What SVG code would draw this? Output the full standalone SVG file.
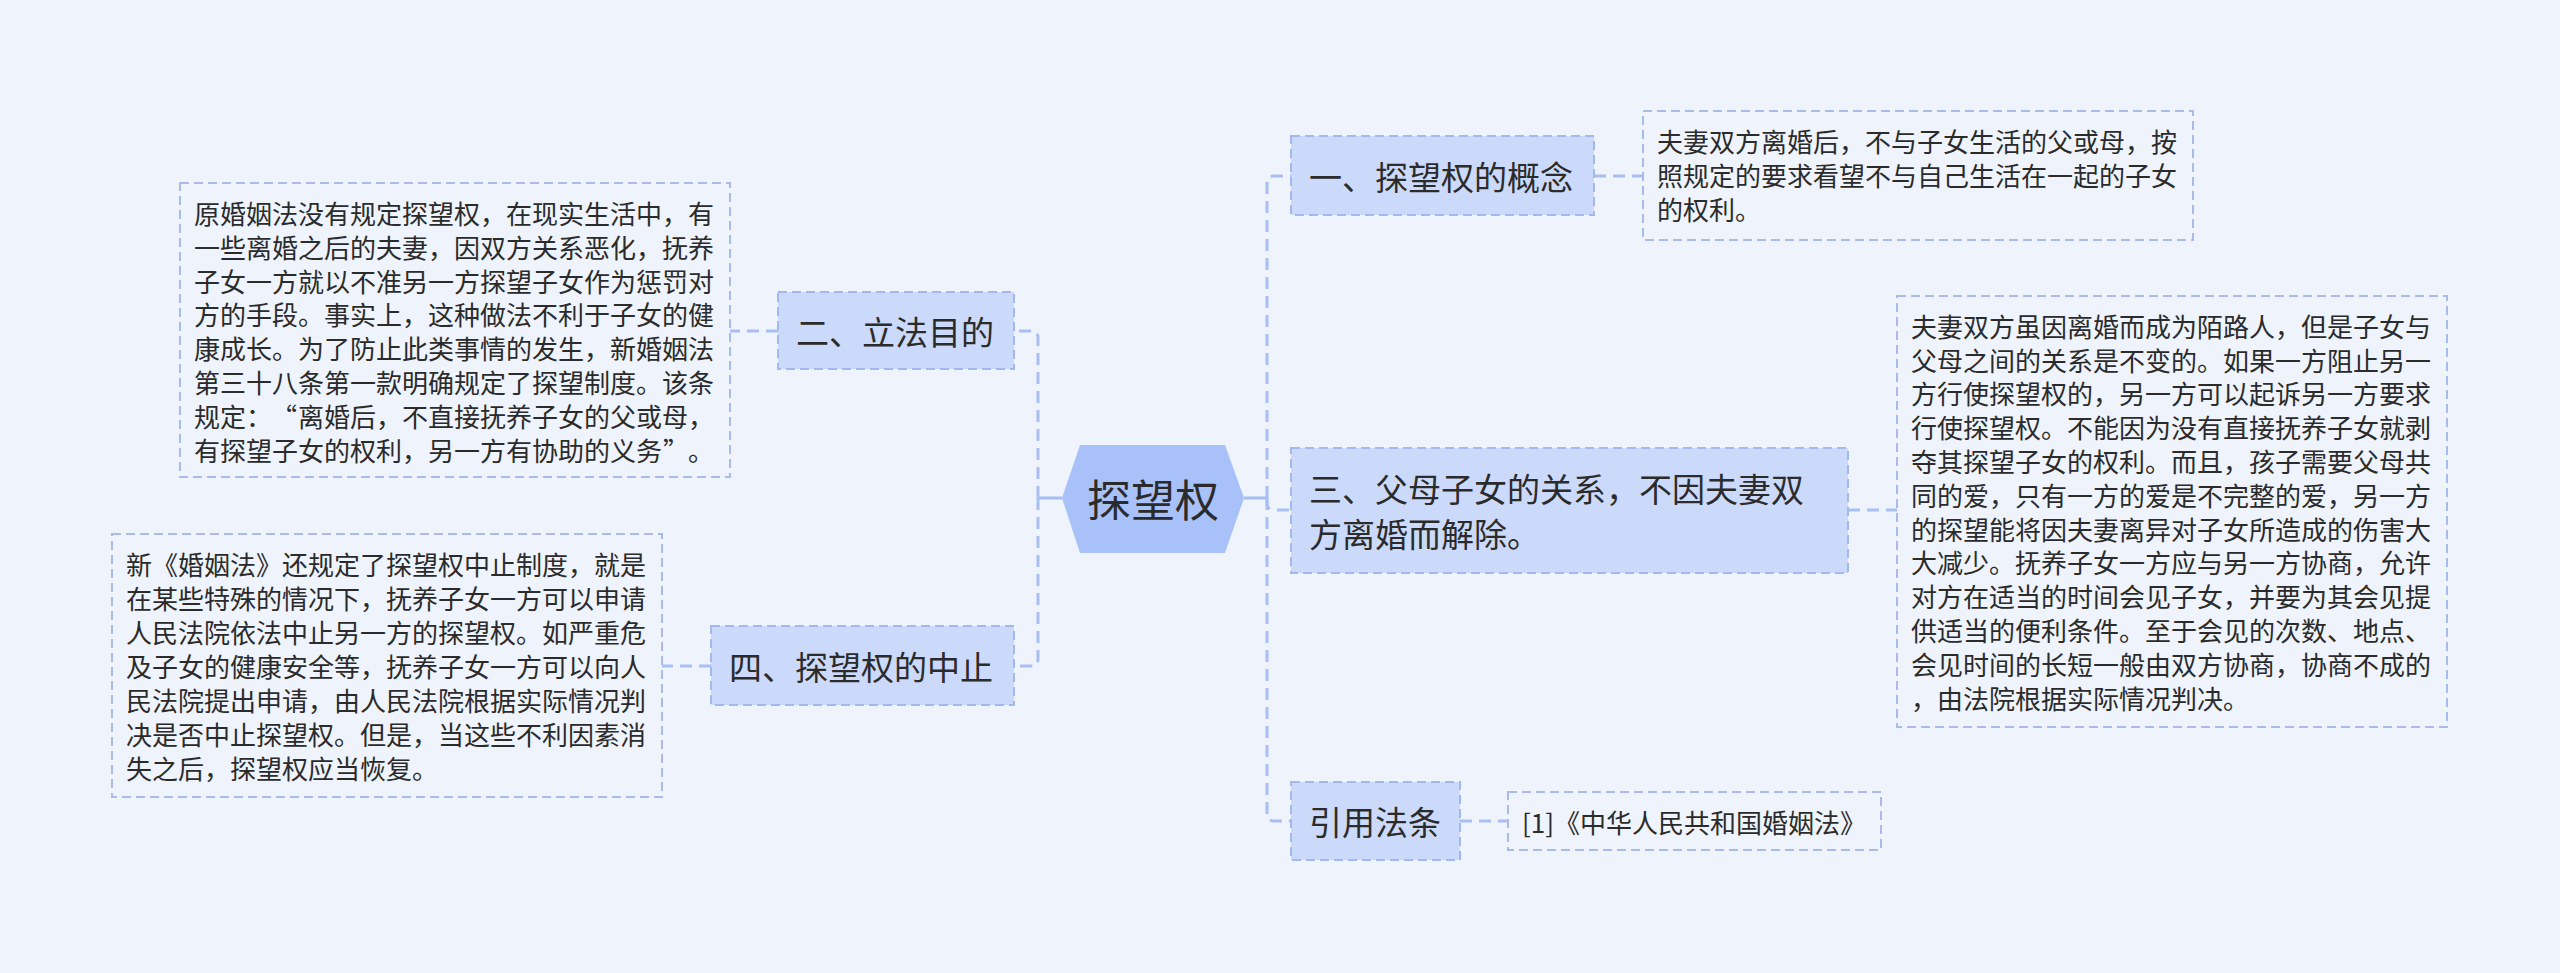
<svg xmlns="http://www.w3.org/2000/svg" width="2560" height="973" viewBox="0 0 2560 973">
<style>
.bg{fill:#eef3fc}
.conn{fill:none;stroke:#a9bff4;stroke-width:3;stroke-dasharray:12 7}
.stub{fill:none;stroke:#a9bff4;stroke-width:3}
.main rect{fill:#cbdafb;stroke:#a3b9ee;stroke-width:2;stroke-dasharray:9 5}
.leaf rect{fill:none;stroke:#a9bbe9;stroke-width:2;stroke-dasharray:9 5}
.mt{font-family:"Noto Sans CJK SC","Noto Sans",sans-serif;font-size:33px;fill:#2b2b2b;dominant-baseline:central}
.lt{font-family:"Noto Sans CJK SC","Noto Sans",sans-serif;font-size:26px;fill:#2b2b2b;dominant-baseline:central}
.ct{font-family:"Noto Sans CJK SC","Noto Sans",sans-serif;font-size:44px;fill:#2b2b2b;dominant-baseline:central;text-anchor:middle}
</style>
<rect class="bg" x="0" y="0" width="2560" height="973"/>

<g id="connectors">
  <path class="stub" d="M1244 498 H1267"/>
  <path class="stub" d="M1062 498 H1038"/>
  <path class="conn" d="M1267 498 V183 Q1267 176 1274 176 H1291"/>
  <path class="conn" d="M1267 498 V503 Q1267 510 1274 510 H1291"/>
  <path class="conn" d="M1267 498 V814 Q1267 821 1274 821 H1291"/>
  <path class="conn" d="M1038 498 V338 Q1038 331 1031 331 H1014"/>
  <path class="conn" d="M1038 498 V659 Q1038 666 1031 666 H1014"/>
  <path class="conn" d="M1594 176 H1643"/>
  <path class="conn" d="M1848 510 H1897"/>
  <path class="conn" d="M1460 821 H1508"/>
  <path class="conn" d="M778 331 H730"/>
  <path class="conn" d="M711 666 H662"/>
</g>

<g id="root">
  <polygon points="1062,498 1080,445 1225,445 1244,498 1225,553 1080,553" fill="#a8c1f9"/>
  <text class="ct" x="1153" y="498">探望权</text>
</g>

<g id="n1" class="main">
  <rect x="1291" y="136" width="303" height="79"/>
  <text class="mt" x="1309" y="176">一、探望权的概念</text>
</g>
<g id="n1leaf" class="leaf">
  <rect x="1643" y="111" width="550" height="129"/>
  <text class="lt">
    <tspan x="1657" y="140">夫妻双方离婚后，不与子女生活的父或母，按</tspan>
    <tspan x="1657" y="174">照规定的要求看望不与自己生活在一起的子女</tspan>
    <tspan x="1657" y="208">的权利。</tspan>
  </text>
</g>

<g id="n2" class="main">
  <rect x="778" y="292" width="236" height="77"/>
  <text class="mt" x="796" y="331">二、立法目的</text>
</g>
<g id="n2leaf" class="leaf">
  <rect x="180" y="183" width="550" height="294"/>
  <text class="lt">
    <tspan x="194" y="212">原婚姻法没有规定探望权，在现实生活中，有</tspan>
    <tspan x="194" y="246">一些离婚之后的夫妻，因双方关系恶化，抚养</tspan>
    <tspan x="194" y="280">子女一方就以不准另一方探望子女作为惩罚对</tspan>
    <tspan x="194" y="313">方的手段。事实上，这种做法不利于子女的健</tspan>
    <tspan x="194" y="347">康成长。为了防止此类事情的发生，新婚姻法</tspan>
    <tspan x="194" y="381">第三十八条第一款明确规定了探望制度。该条</tspan>
    <tspan x="194" y="415">规定：</tspan><tspan x="297" y="415" text-anchor="end">“</tspan><tspan x="298" y="415">离婚后，不直接抚养子女的父或母，</tspan>
    <tspan x="194" y="449">有探望子女的权利，另一方有协助的义务</tspan><tspan x="663" y="449">”</tspan><tspan x="688" y="449">。</tspan>
  </text>
</g>

<g id="n3" class="main">
  <rect x="1291" y="448" width="557" height="125"/>
  <text class="mt">
    <tspan x="1309" y="488">三、父母子女的关系，不因夫妻双</tspan>
    <tspan x="1309" y="533">方离婚而解除。</tspan>
  </text>
</g>
<g id="n3leaf" class="leaf">
  <rect x="1897" y="296" width="550" height="431"/>
  <text class="lt">
    <tspan x="1911" y="325">夫妻双方虽因离婚而成为陌路人，但是子女与</tspan>
    <tspan x="1911" y="359">父母之间的关系是不变的。如果一方阻止另一</tspan>
    <tspan x="1911" y="392">方行使探望权的，另一方可以起诉另一方要求</tspan>
    <tspan x="1911" y="426">行使探望权。不能因为没有直接抚养子女就剥</tspan>
    <tspan x="1911" y="460">夺其探望子女的权利。而且，孩子需要父母共</tspan>
    <tspan x="1911" y="494">同的爱，只有一方的爱是不完整的爱，另一方</tspan>
    <tspan x="1911" y="528">的探望能将因夫妻离异对子女所造成的伤害大</tspan>
    <tspan x="1911" y="561">大减少。抚养子女一方应与另一方协商，允许</tspan>
    <tspan x="1911" y="595">对方在适当的时间会见子女，并要为其会见提</tspan>
    <tspan x="1911" y="629">供适当的便利条件。至于会见的次数、地点、</tspan>
    <tspan x="1911" y="663">会见时间的长短一般由双方协商，协商不成的</tspan>
    <tspan x="1911" y="697">，由法院根据实际情况判决。</tspan>
  </text>
</g>

<g id="n4" class="main">
  <rect x="711" y="626" width="303" height="79"/>
  <text class="mt" x="729" y="666">四、探望权的中止</text>
</g>
<g id="n4leaf" class="leaf">
  <rect x="112" y="534" width="550" height="263"/>
  <text class="lt">
    <tspan x="126" y="563">新《婚姻法》还规定了探望权中止制度，就是</tspan>
    <tspan x="126" y="597">在某些特殊的情况下，抚养子女一方可以申请</tspan>
    <tspan x="126" y="631">人民法院依法中止另一方的探望权。如严重危</tspan>
    <tspan x="126" y="665">及子女的健康安全等，抚养子女一方可以向人</tspan>
    <tspan x="126" y="699">民法院提出申请，由人民法院根据实际情况判</tspan>
    <tspan x="126" y="733">决是否中止探望权。但是，当这些不利因素消</tspan>
    <tspan x="126" y="767">失之后，探望权应当恢复。</tspan>
  </text>
</g>

<g id="n5" class="main">
  <rect x="1291" y="782" width="169" height="78"/>
  <text class="mt" x="1309" y="821">引用法条</text>
</g>
<g id="n5leaf" class="leaf">
  <rect x="1508" y="792" width="373" height="58"/>
  <text class="lt" x="1522" y="821">[1]《中华人民共和国婚姻法》</text>
</g>
</svg>
